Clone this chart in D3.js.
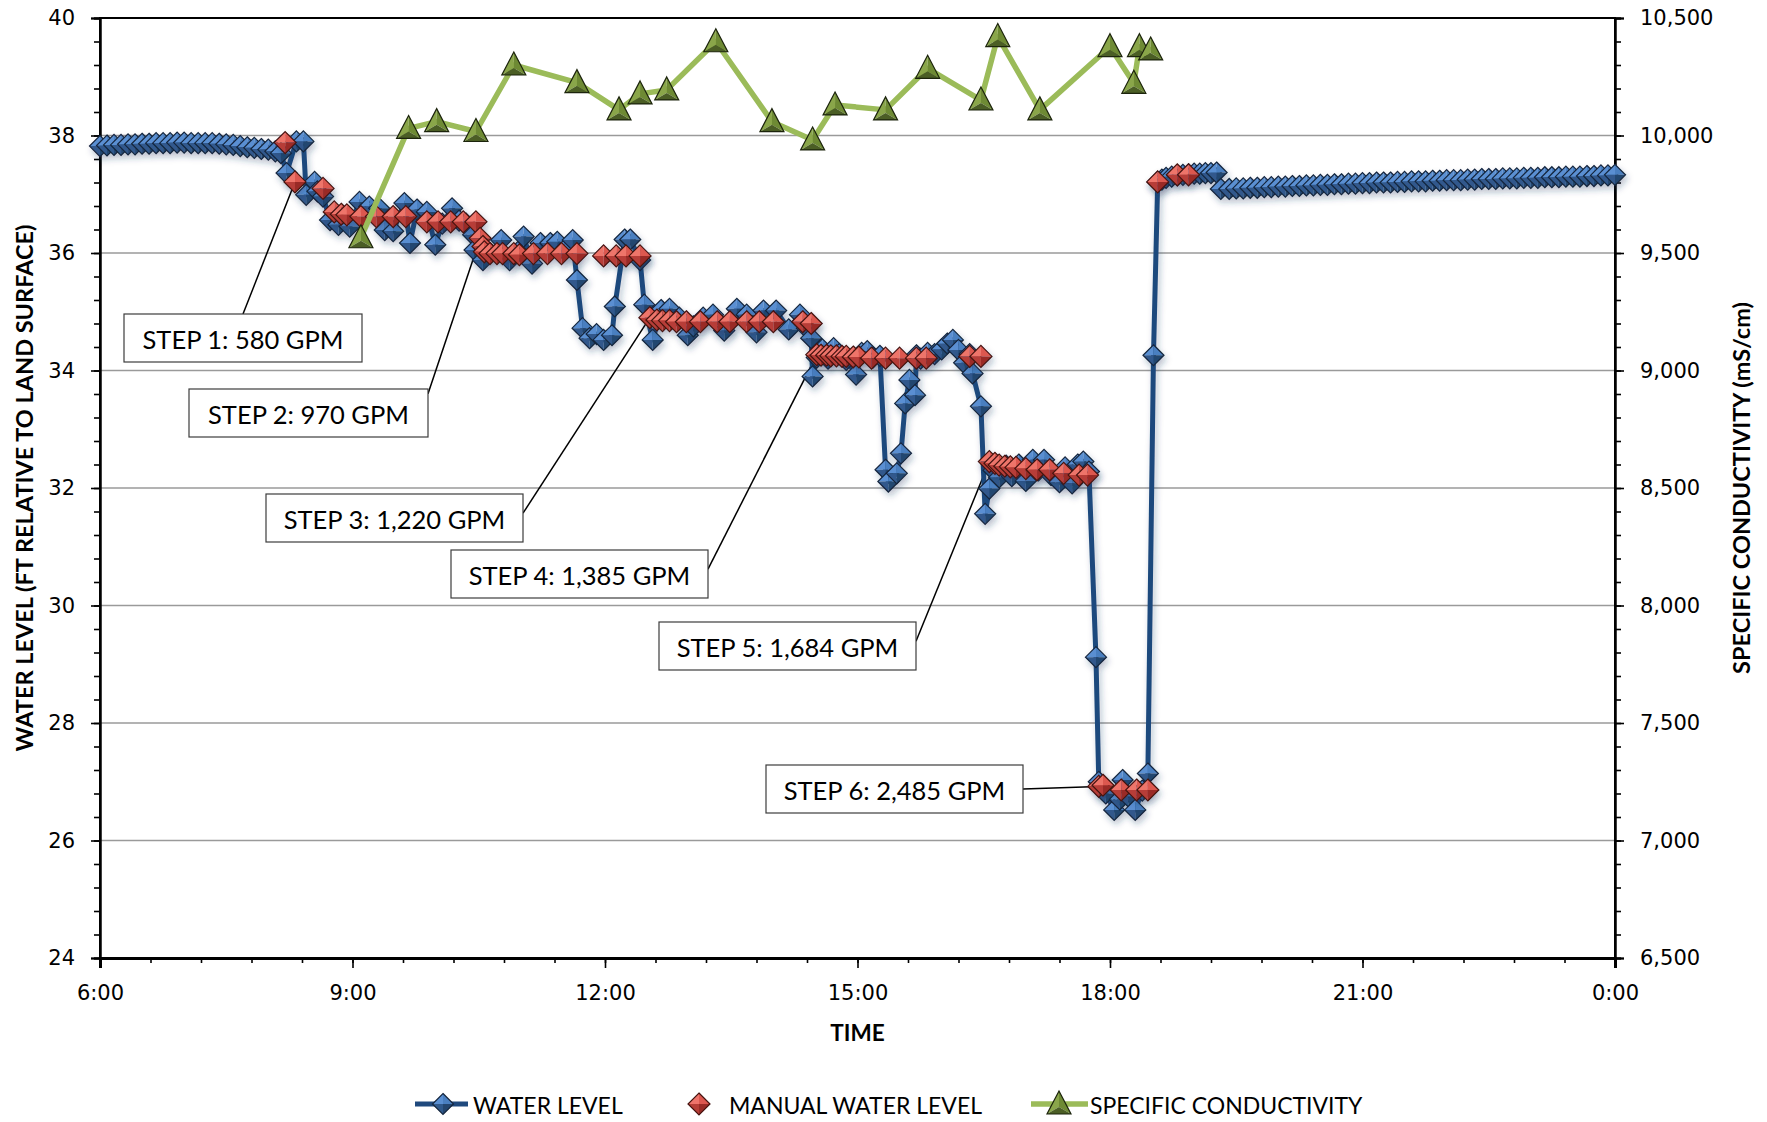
<!DOCTYPE html>
<html>
<head>
<meta charset="utf-8">
<script src="https://cdn.jsdelivr.net/npm/d3@7"></script>
<style>
  body { margin: 0; background: #fff; }
  svg { display: block; }
</style>
</head>
<body>
<div id="chart"></div>
<script>
// ---- data ----
// transducer water level (ft relative to land surface)
const waterLevel = [
  ["6:00",37.82],["6:05",37.83],["6:10",37.84],["6:15",37.84],["6:20",37.85],["6:25",37.85],["6:30",37.86],
  ["6:35",37.86],["6:40",37.87],["6:45",37.87],["6:50",37.87],["6:55",37.88],["7:00",37.88],["7:05",37.87],
  ["7:10",37.87],["7:15",37.87],["7:20",37.87],["7:25",37.86],["7:30",37.85],["7:35",37.84],["7:40",37.82],
  ["7:45",37.80],["7:50",37.79],["7:55",37.77],["8:00",37.76],["8:05",37.73],
  ["8:09",37.70],["8:13",37.36],["8:20",37.90],["8:25",37.90],["8:27",36.99],["8:33",37.21],["8:35",37.05],
  ["8:39",36.96],["8:44",36.56],["8:50",36.48],["8:58",36.45],["9:05",36.87],["9:12",36.79],["9:19",36.76],
  ["9:23",36.39],["9:29",36.37],["9:37",36.85],["9:41",36.17],["9:46",36.74],["9:53",36.70],["9:59",36.14],
  ["10:04",36.50],["10:11",36.76],["10:16",36.55],["10:21",36.50],["10:26",36.31],
  ["10:27",36.05],["10:33",35.88],["10:38",36.00],["10:46",36.22],["10:52",35.88],["10:58",36.02],["11:02",36.28],
  ["11:08",35.82],["11:14",36.17],["11:21",36.17],["11:26",36.19],["11:31",36.05],["11:37",36.22],["11:40",35.54],
  ["11:44",34.72],["11:49",34.55],["11:54",34.62],["11:59",34.52],["12:05",34.60],["12:07",35.09],["12:14",36.23],
  ["12:18",36.23],["12:25",35.88],["12:28",35.12],
  ["12:34",34.52],["12:40",35.03],["12:46",35.05],["12:53",34.90],["12:59",34.60],["13:03",34.75],["13:10",34.90],
  ["13:17",34.95],["13:25",34.68],["13:34",35.05],["13:41",34.95],["13:48",34.65],["13:53",35.02],["14:02",35.02],
  ["14:11",34.70],["14:19",34.95],["14:24",34.72],
  ["14:27",34.55],["14:28",33.90],["14:31",34.22],["14:35",34.36],["14:39",34.20],["14:43",34.38],["14:47",34.28],
  ["14:52",34.18],["14:59",33.93],["15:03",34.30],["15:07",34.33],["15:11",34.22],["15:16",34.25],
  ["15:20",32.31],["15:22",32.11],["15:28",32.25],["15:31",32.59],["15:34",33.44],["15:37",33.84],["15:41",33.58],
  ["15:42",34.26],["15:45",34.20],["15:50",34.30],["15:55",34.28],["16:00",34.36],["16:04",34.46],["16:08",34.52],
  ["16:12",34.35],["16:16",34.13],["16:20",34.28],["16:22",33.95],["16:28",33.39],["16:31",31.56],["16:34",31.99],
  ["16:37",32.30],["16:41",32.18],["16:46",32.38],["16:50",32.20],["16:55",32.40],["17:00",32.12],["17:05",32.48],
  ["17:09",32.30],["17:13",32.48],["17:18",32.22],["17:24",32.10],["17:28",32.35],["17:33",32.08],["17:37",32.40],
  ["17:41",32.45],["17:45",32.28],
  ["17:50",29.12],["17:52",27.00],["17:57",26.80],["18:03",26.52],["18:07",26.70],["18:09",27.03],["18:13",26.75],
  ["18:18",26.52],["18:23",26.85],["18:27",27.14],["18:31",34.26],["18:34",37.21],
  ["18:37",37.25],["18:40",37.28],["18:44",37.30],["18:48",37.32],["18:52",37.33],["18:56",37.34],["19:00",37.35],
  ["19:04",37.35],["19:08",37.36],["19:12",37.36],["19:16",37.37],["19:19",37.09],
  ["19:25",37.09],["19:30",37.10],["19:35",37.10],["19:40",37.11],["19:45",37.11],["19:50",37.12],["19:55",37.12],
  ["20:00",37.13],["20:05",37.13],["20:10",37.14],["20:15",37.14],["20:20",37.15],["20:25",37.15],["20:30",37.16],
  ["20:35",37.16],["20:40",37.17],["20:45",37.17],["20:50",37.18],["20:55",37.18],["21:00",37.19],["21:05",37.19],
  ["21:10",37.20],["21:15",37.20],["21:20",37.20],["21:25",37.21],["21:30",37.21],["21:35",37.22],["21:40",37.22],
  ["21:45",37.22],["21:50",37.23],["21:55",37.23],["22:00",37.24],["22:05",37.24],["22:10",37.24],["22:15",37.25],
  ["22:20",37.25],["22:25",37.26],["22:30",37.26],["22:35",37.26],["22:40",37.27],["22:45",37.27],["22:50",37.27],
  ["22:55",37.28],["23:00",37.28],["23:05",37.28],["23:10",37.29],["23:15",37.29],["23:20",37.29],["23:25",37.30],
  ["23:30",37.30],["23:35",37.30],["23:40",37.31],["23:45",37.31],["23:50",37.32],["23:55",37.32],["24:00",37.33]
];

// manual (tape) water level readings
const manualLevel = [
  ["8:12",37.88],["8:19",37.21],["8:39",37.10],["8:47",36.70],["8:52",36.66],["8:56",36.65],["9:06",36.62],
  ["9:17",36.62],["9:29",36.62],["9:38",36.62],["9:53",36.53],["10:01",36.53],["10:10",36.53],["10:19",36.53],
  ["10:28",36.53],["10:31",36.25],["10:33",36.11],
  ["10:34",36.02],["10:38",35.99],["10:43",35.99],["10:47",35.99],["10:55",35.99],["10:59",35.97],["11:09",35.99],
  ["11:19",35.99],["11:29",35.99],["11:40",35.99],["11:59",35.95],["12:08",35.95],["12:15",35.95],["12:25",35.95],
  ["12:32",34.90],["12:37",34.86],["12:41",34.85],["12:46",34.85],["12:51",34.83],["12:58",34.83],["13:08",34.83],
  ["13:20",34.83],["13:29",34.83],["13:41",34.83],["13:50",34.83],["14:00",34.83],["14:21",34.83],["14:27",34.80],
  ["14:31",34.27],["14:34",34.26],["14:38",34.26],["14:41",34.25],["14:45",34.25],["14:49",34.24],["14:52",34.24],
  ["14:57",34.23],["15:01",34.23],["15:10",34.21],["15:20",34.21],["15:30",34.21],["15:42",34.21],["15:49",34.21],
  ["16:20",34.24],["16:28",34.24],
  ["16:34",32.45],["16:38",32.42],["16:41",32.39],["16:45",32.37],["16:49",32.36],["16:53",32.35],["17:00",32.33],
  ["17:08",32.31],["17:17",32.31],["17:27",32.25],["17:38",32.22],["17:44",32.22],
  ["17:52",26.92],["17:55",26.94],["18:08",26.86],["18:19",26.86],["18:27",26.86],
  ["18:34",37.21],["18:48",37.33],["18:56",37.33]
];

// specific conductivity (mS/cm), right axis
const conductivity = [
  ["9:06",9565],["9:40",10030],["10:00",10059],["10:28",10017],["10:55",10300],["11:40",10225],["12:10",10109],
  ["12:25",10177],["12:44",10194],["13:19",10399],["13:59",10059],["14:28",9981],["14:44",10130],["15:20",10109],
  ["15:50",10286],["16:28",10151],["16:40",10421],["17:10",10109],["18:00",10378],["18:17",10222],["18:21",10378],
  ["18:29",10364]
];

const timeTickLabels = ["6:00", "9:00", "12:00", "15:00", "18:00", "21:00", "0:00"];
const levelTicks = [24, 26, 28, 30, 32, 34, 36, 38, 40];
const condTicks = [6500, 7000, 7500, 8000, 8500, 9000, 9500, 10000, 10500];

// pumping steps: label and the manual reading each callout points at
const stepLabels = ["STEP 1: 580 GPM", "STEP 2: 970 GPM", "STEP 3: 1,220 GPM",
                    "STEP 4: 1,385 GPM", "STEP 5: 1,684 GPM", "STEP 6: 2,485 GPM"];
const stepTargets = [["8:19",37.21], ["10:31",36.25], ["12:32",34.90],
                     ["14:31",34.27], ["16:34",32.45], ["17:52",26.92]];

// ---- layout ----
const W = 1767, H = 1122;
const plot = { left: 100, right: 1615, top: 18, bottom: 958 };
// callout boxes (px) and where the leader leaves the box (fraction of w/h)
const calloutBoxes = [
  { x: 124, y: 314, w: 238, h: 48, ax: 0.5, ay: 0 },
  { x: 189, y: 389, w: 239, h: 48, ax: 1, ay: 0.1 },
  { x: 266, y: 494, w: 257, h: 48, ax: 1, ay: 0.4 },
  { x: 451, y: 550, w: 257, h: 48, ax: 1, ay: 0.4 },
  { x: 659, y: 622, w: 257, h: 48, ax: 1, ay: 0.4 },
  { x: 766, y: 765, w: 257, h: 48, ax: 1, ay: 0.5 }
];

const hours = s => { const [h, m] = s.split(":").map(Number); return h + m / 60; };

const x = d3.scaleLinear().domain([6, 24]).range([plot.left, plot.right]);
const yL = d3.scaleLinear().domain([24, 40]).range([plot.bottom, plot.top]);
const yR = d3.scaleLinear().domain([6500, 10500]).range([plot.bottom, plot.top]);

const svg = d3.select("#chart").append("svg")
    .attr("width", W).attr("height", H)
    .style("font-family", "'DejaVu Sans', Verdana, sans-serif");

const defs = svg.append("defs");

// soft shadow like the Excel marker effect
const shadow = defs.append("filter").attr("id", "shadow")
    .attr("x", "-30%").attr("y", "-30%").attr("width", "160%").attr("height", "160%");
shadow.append("feDropShadow").attr("dx", 2).attr("dy", 4).attr("stdDeviation", 3)
    .attr("flood-color", "#1f3a5f").attr("flood-opacity", 0.3);

// bevelled diamond markers (4 facets) and triangle marker
function diamondDef(id, r, c) {
  const g = defs.append("g").attr("id", id);
  g.append("path").attr("d", `M${-r},0L0,${-r}L0,0Z`).attr("fill", c[0]);
  g.append("path").attr("d", `M0,${-r}L${r},0L0,0Z`).attr("fill", c[1]);
  g.append("path").attr("d", `M${r},0L0,${r}L0,0Z`).attr("fill", c[2]);
  g.append("path").attr("d", `M0,${r}L${-r},0L0,0Z`).attr("fill", c[3]);
  g.append("path").attr("d", `M0,${-r}L${r},0L0,${r}L${-r},0Z`)
      .attr("fill", "none").attr("stroke", c[4]).attr("stroke-width", 1.2);
}
diamondDef("dBlue", 10.5, ["#5a8fd2", "#4a7fc0", "#24466f", "#30598c", "#14253d"]);
diamondDef("dRed", 11, ["#ee746b", "#dc5850", "#9a2c27", "#b73e37", "#45130f"]);

(function triangleDef() {
  const s = 12, top = -13, bot = 10;
  const g = defs.append("g").attr("id", "tGreen");
  g.append("path").attr("d", `M0,${top}L${-s},${bot}L0,3Z`).attr("fill", "#8aa64a");
  g.append("path").attr("d", `M0,${top}L${s},${bot}L0,3Z`).attr("fill", "#6e8a34");
  g.append("path").attr("d", `M${-s},${bot}L${s},${bot}L0,3Z`).attr("fill", "#4b5e25");
  g.append("path").attr("d", `M0,${top}L${s},${bot}L${-s},${bot}Z`)
      .attr("fill", "none").attr("stroke", "#1c240c").attr("stroke-width", 1.2);
})();

// gridlines
svg.append("g").selectAll("line")
    .data(levelTicks.filter(d => d > 24 && d < 40))
    .join("line")
    .attr("x1", plot.left).attr("x2", plot.right)
    .attr("y1", d => yL(d)).attr("y2", d => yL(d))
    .attr("stroke", "#9a9a9a").attr("stroke-width", 1.6);

// frame
svg.append("rect")
    .attr("x", plot.left).attr("y", plot.top)
    .attr("width", plot.right - plot.left).attr("height", plot.bottom - plot.top)
    .attr("fill", "none").attr("stroke", "#000").attr("stroke-width", 2);

// axes
const tickFont = g => g.selectAll("text").attr("font-size", 21).attr("fill", "#000")
    .attr("font-family", "'DejaVu Sans', Verdana, sans-serif");
const axisStyle = g => {
  g.select(".domain").attr("stroke", "#000").attr("stroke-width", 2);
  g.selectAll(".tick line").attr("stroke", "#000").attr("stroke-width", 1.6);
};

svg.append("g").attr("transform", `translate(${plot.left},0)`)
    .call(d3.axisLeft(yL).tickValues(d3.range(24, 40.01, 0.4)).tickSize(6).tickFormat(""))
    .call(axisStyle);
svg.append("g").attr("transform", `translate(${plot.left},0)`)
    .call(d3.axisLeft(yL).tickValues(levelTicks).tickSize(9).tickPadding(16).tickFormat(d3.format("d")))
    .call(axisStyle).call(tickFont);

svg.append("g").attr("transform", `translate(${plot.right},0)`)
    .call(d3.axisRight(yR).tickValues(d3.range(6500, 10500.1, 100)).tickSize(6).tickFormat(""))
    .call(axisStyle);
svg.append("g").attr("transform", `translate(${plot.right},0)`)
    .call(d3.axisRight(yR).tickValues(condTicks).tickSize(9).tickPadding(16).tickFormat(d3.format(",")))
    .call(axisStyle).call(tickFont);

svg.append("g").attr("transform", `translate(0,${plot.bottom})`)
    .call(d3.axisBottom(x).tickValues(d3.range(6, 24.01, 0.6)).tickSize(5).tickFormat(""))
    .call(axisStyle);
svg.append("g").attr("transform", `translate(0,${plot.bottom})`)
    .call(d3.axisBottom(x).tickValues(d3.range(6, 24.01, 3)).tickSize(10).tickPadding(17)
      .tickFormat((d, i) => timeTickLabels[i]))
    .call(axisStyle).call(tickFont)
    .select(".domain").attr("stroke-width", 3);

// axis titles
const titleFont = "Lato, 'Open Sans', sans-serif";
svg.append("text")
    .attr("transform", `translate(24,${(plot.top + plot.bottom) / 2}) rotate(-90)`)
    .attr("text-anchor", "middle").attr("dominant-baseline", "central")
    .attr("font-family", titleFont).attr("font-weight", 700).attr("font-size", 23.5)
    .text("WATER LEVEL (FT RELATIVE TO LAND SURFACE)");
svg.append("text")
    .attr("transform", `translate(1741,${(plot.top + plot.bottom) / 2}) rotate(-90)`)
    .attr("text-anchor", "middle").attr("dominant-baseline", "central")
    .attr("font-family", titleFont).attr("font-weight", 700).attr("font-size", 23.5)
    .text("SPECIFIC CONDUCTIVITY (mS/cm)");
svg.append("text")
    .attr("x", (plot.left + plot.right) / 2).attr("y", 1032)
    .attr("text-anchor", "middle").attr("dominant-baseline", "central")
    .attr("font-family", titleFont).attr("font-weight", 700).attr("font-size", 22.5)
    .text("TIME");

// callouts (leader lines first so the boxes sit on top)
const callouts = stepLabels.map((label, i) => ({
  label, box: calloutBoxes[i], t: hours(stepTargets[i][0]), v: stepTargets[i][1]
}));
const cg = svg.append("g");
cg.selectAll("line").data(callouts).join("line")
    .attr("x1", d => d.box.x + d.box.ax * d.box.w)
    .attr("y1", d => d.box.y + d.box.ay * d.box.h)
    .attr("x2", d => x(d.t)).attr("y2", d => yL(d.v))
    .attr("stroke", "#000").attr("stroke-width", 1.5);
cg.selectAll("rect").data(callouts).join("rect")
    .attr("x", d => d.box.x).attr("y", d => d.box.y)
    .attr("width", d => d.box.w).attr("height", d => d.box.h)
    .attr("fill", "#fff").attr("stroke", "#3c3c3c").attr("stroke-width", 1.2);
cg.selectAll("text").data(callouts).join("text")
    .attr("x", d => d.box.x + d.box.w / 2).attr("y", d => d.box.y + d.box.h / 2 + 1)
    .attr("text-anchor", "middle").attr("dominant-baseline", "central")
    .attr("font-family", titleFont).attr("font-size", 25.5)
    .text(d => d.label);

// water level line + markers
const wl = waterLevel.map(d => ({ t: hours(d[0]), v: d[1] }));
const mw = manualLevel.map(d => ({ t: hours(d[0]), v: d[1] }));
const sc = conductivity.map(d => ({ t: hours(d[0]), v: d[1] }));

const wlG = svg.append("g").attr("filter", "url(#shadow)");
wlG.append("path").datum(wl)
    .attr("d", d3.line().x(d => x(d.t)).y(d => yL(d.v)))
    .attr("fill", "none").attr("stroke", "#1f497d").attr("stroke-width", 5)
    .attr("stroke-linejoin", "round");
wlG.selectAll("use").data(wl).join("use")
    .attr("href", "#dBlue").attr("x", d => x(d.t)).attr("y", d => yL(d.v));

svg.append("g").attr("filter", "url(#shadow)")
    .selectAll("use").data(mw).join("use")
    .attr("href", "#dRed").attr("x", d => x(d.t)).attr("y", d => yL(d.v));

// conductivity
const scG = svg.append("g");
scG.append("path").datum(sc)
    .attr("d", d3.line().x(d => x(d.t)).y(d => yR(d.v)))
    .attr("fill", "none").attr("stroke", "#9bbb59").attr("stroke-width", 5.5)
    .attr("stroke-linejoin", "round");
scG.selectAll("use").data(sc).join("use")
    .attr("href", "#tGreen").attr("x", d => x(d.t)).attr("y", d => yR(d.v));

// legend
const lg = svg.append("g").attr("transform", "translate(0,1104)");
const legendFont = g => g.attr("font-family", titleFont).attr("font-size", 23)
    .attr("dominant-baseline", "central");
lg.append("line").attr("x1", 415).attr("x2", 468).attr("stroke", "#1f497d").attr("stroke-width", 5);
lg.append("use").attr("href", "#dBlue").attr("x", 443).attr("y", 0);
lg.append("text").attr("x", 473).attr("y", 1).call(legendFont).text("WATER LEVEL");
lg.append("use").attr("href", "#dRed").attr("x", 699).attr("y", 0);
lg.append("text").attr("x", 729).attr("y", 1).call(legendFont).text("MANUAL WATER LEVEL");
lg.append("line").attr("x1", 1031).attr("x2", 1088).attr("stroke", "#9bbb59").attr("stroke-width", 5.5);
lg.append("use").attr("href", "#tGreen").attr("x", 1059).attr("y", 0);
lg.append("text").attr("x", 1090).attr("y", 1).call(legendFont).text("SPECIFIC CONDUCTIVITY");
</script>
</body>
</html>
